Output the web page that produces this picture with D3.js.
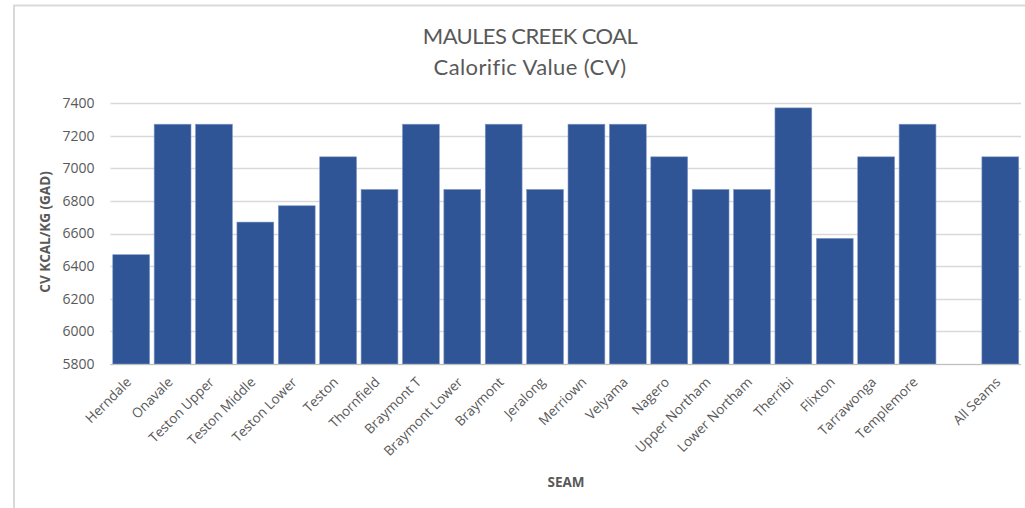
<!DOCTYPE html>
<html><head><meta charset="utf-8">
<script src="https://cdn.jsdelivr.net/npm/d3@7"></script>
<style>body{margin:0;background:#fff}svg{display:block}</style>
</head><body>
<svg id="c" width="1025" height="508"></svg>
<script>
const categories = ["Herndale","Onavale","Teston Upper","Teston Middle","Teston Lower","Teston","Thornfield","Braymont T","Braymont Lower","Braymont","Jeralong","Merriown","Velyama","Nagero","Upper Northam","Lower Northam","Therribi","Flixton","Tarrawonga","Templemore"," ","All Seams"];
const cvValues = [6470,7270,7270,6670,6770,7070,6870,7270,6870,7270,6870,7270,7270,7070,6870,6870,7370,6570,7070,7270,null,7070];
const yTicks = [5800,6000,6200,6400,6600,6800,7000,7200,7400];

const svg = d3.select("#c");
svg.append("path").attr("d","M14,508 V5.5 H1025").attr("fill","none").attr("stroke","#d9d9d9").attr("stroke-width",2);

const L=110.5, R=1021, T=103, B=364;
const x = d3.scaleBand().domain(categories).range([L,R]).paddingInner(0.11).paddingOuter(0.055);
const y = d3.scaleLinear().domain([5800,7400]).range([B,T]);

svg.append("g").selectAll("line").data(yTicks).join("line")
  .attr("x1",L).attr("x2",R).attr("y1",d=>Math.round(y(d))+0.5).attr("y2",d=>Math.round(y(d))+0.5)
  .attr("stroke","#d9d9d9").attr("stroke-width",1.3);

const data = categories.map((c,i)=>({c,v:cvValues[i]})).filter(d=>d.v!=null);
svg.append("g").selectAll("rect").data(data).join("rect")
  .attr("x",d=>x(d.c)).attr("width",x.bandwidth())
  .attr("y",d=>y(d.v)).attr("height",d=>B-y(d.v))
  .attr("fill","#2F5597").attr("stroke","#7f97c4").attr("stroke-width",0.6);

svg.append("line").attr("x1",L).attr("x2",R).attr("y1",B+0.5).attr("y2",B+0.5).attr("stroke","#bfbfbf").attr("stroke-width",1.2);

const yAxis = d3.axisLeft(y).tickValues(yTicks).tickFormat(d3.format("d")).tickSize(0).tickPadding(16);
const gy = svg.append("g").attr("transform",`translate(${L},0)`).call(yAxis);
gy.select(".domain").remove();
gy.selectAll("text").attr("fill","#595959").style("font-family","'Open Sans',sans-serif").style("font-size","14px");

const xAxis = d3.axisBottom(x).tickSize(0).tickPadding(0);
const gx = svg.append("g").attr("transform",`translate(0,${B})`).call(xAxis);
gx.select(".domain").remove();
gx.selectAll("text").attr("fill","#595959").style("font-family","'Open Sans',sans-serif").style("font-size","13.5px")
  .attr("text-anchor","end").attr("dy",null).attr("y",0)
  .attr("transform","translate(1,19) rotate(-45)");

svg.append("text").attr("x",530).attr("y",44).attr("text-anchor","middle").attr("fill","#595959")
  .style("font-family","Lato,sans-serif").style("font-size","22px").style("letter-spacing","-0.6px").text("MAULES CREEK COAL");
svg.append("text").attr("x",530).attr("y",75).attr("text-anchor","middle").attr("fill","#595959")
  .style("font-family","Lato,sans-serif").style("font-size","22px").style("letter-spacing","0.4px").text("Calorific Value (CV)");

svg.append("text").attr("transform","translate(50,232) rotate(-90)").attr("text-anchor","middle").attr("fill","#595959")
  .style("font-family","'Open Sans',sans-serif").style("font-size","13.5px").style("font-weight","bold").text("CV KCAL/KG (GAD)");
svg.append("text").attr("x",566).attr("y",487).attr("text-anchor","middle").attr("fill","#595959")
  .style("font-family","'Open Sans',sans-serif").style("font-size","13.5px").style("font-weight","bold").text("SEAM");
</script>
</body></html>
